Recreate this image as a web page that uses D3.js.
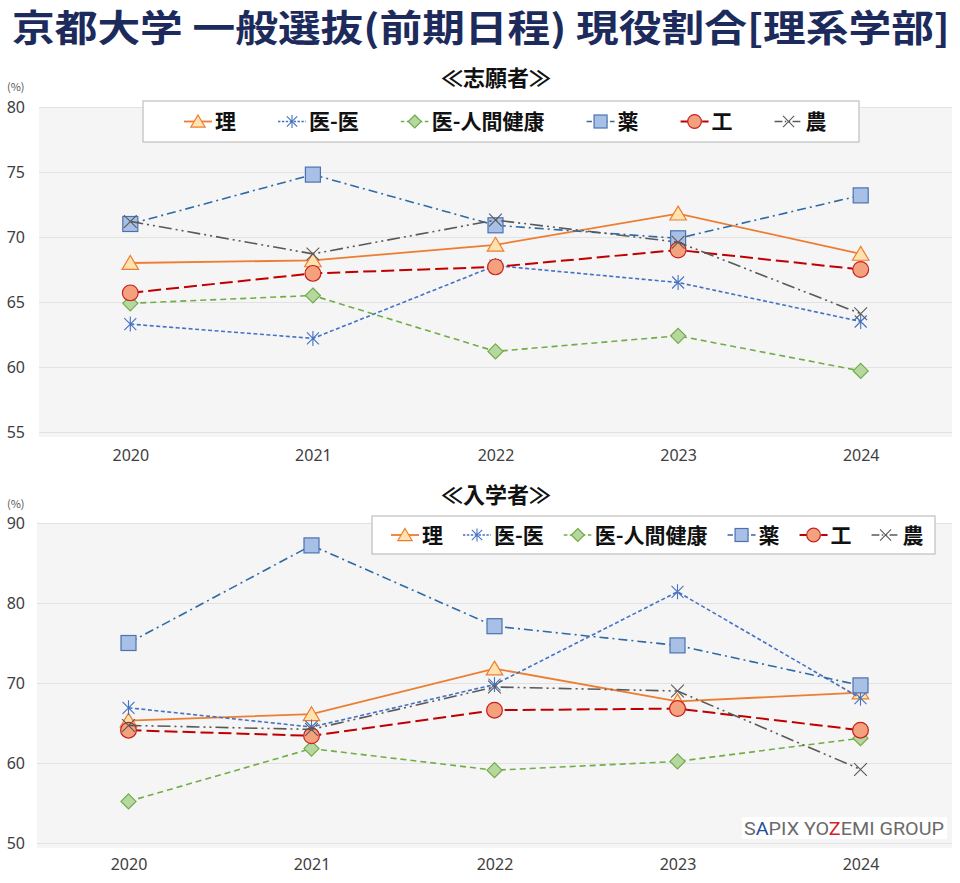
<!DOCTYPE html>
<html><head><meta charset="utf-8">
<script src="https://cdn.jsdelivr.net/npm/d3@7"></script>
<style>
html,body{margin:0;padding:0;background:#fff;}
svg{display:block;}
</style></head>
<body>
<script>
// ---- data ----
const years = ["2020","2021","2022","2023","2024"];
const seriesNames = ["理","医-医","医-人間健康","薬","工","農"];
// 志願者 (applicants) share of current students, %
const appRi    = [68.0, 68.2, 69.4, 71.8, 68.7];
const appIgaku = [63.3, 62.2, 67.8, 66.5, 63.5];
const appHoken = [64.9, 65.5, 61.2, 62.4, 59.7];
const appYaku  = [71.0, 74.8, 70.9, 69.9, 73.2];
const appKou   = [65.7, 67.2, 67.7, 69.0, 67.5];
const appNou   = [71.2, 68.7, 71.3, 69.6, 64.1];
// 入学者 (enrollees)
const entRi    = [65.3, 66.1, 71.8, 67.7, 68.8];
const entIgaku = [66.9, 64.5, 69.8, 81.4, 68.1];
const entHoken = [55.2, 61.8, 59.1, 60.2, 63.1];
const entYaku  = [75.0, 87.2, 77.1, 74.7, 69.7];
const entKou   = [64.1, 63.4, 66.6, 66.8, 64.1];
const entNou   = [64.7, 64.2, 69.5, 69.0, 59.2];
const appTicks = [55, 60, 65, 70, 75, 80];
const entTicks = [50, 60, 70, 80, 90];

// ---- styles ----
const styles = {
  "理":        {stroke:"#ED7D31", width:1.8, dash:null,              marker:"triangle", fill:"#FFE3AE", mstroke:"#ED7D31"},
  "医-医":      {stroke:"#4472C4", width:1.6, dash:"4,2.5",           marker:"star",     fill:"none",    mstroke:"#4472C4"},
  "医-人間健康": {stroke:"#70AD47", width:1.6, dash:"6,4",             marker:"diamond",  fill:"#B7D7A0", mstroke:"#70AD47"},
  "薬":        {stroke:"#2E6AA6", width:1.6, dash:"9,4,2,4",         marker:"square",   fill:"#A8C0E6", mstroke:"#4A72B0"},
  "工":        {stroke:"#C00000", width:2.0, dash:"13,5",            marker:"circle",   fill:"#F4A27E", mstroke:"#C62020"},
  "農":        {stroke:"#595959", width:1.6, dash:"13,4,2,4,2,4",    marker:"x",        fill:"none",    mstroke:"#595959"}
};

const W = 960, H = 883;
const svg = d3.select("body").append("svg").attr("width", W).attr("height", H);
const JP = "'Noto Sans CJK JP','Noto Sans',sans-serif";

// title
svg.append("text").attr("x", 12).attr("y", 42)
  .attr("textLength", 938).attr("lengthAdjust", "spacingAndGlyphs")
  .style("font-family", JP).style("font-weight", 700).style("font-size", "37px")
  .attr("fill", "#1C2B5C")
  .text("京都大学 一般選抜(前期日程) 現役割合[理系学部]");

function drawMarker(g, type, s, st) {
  const h = s / 2;
  if (type === "triangle") {
    g.append("path").attr("d", `M0,${-h} L${h*1.1},${h*0.85} L${-h*1.1},${h*0.85} Z`)
      .attr("fill", st.fill).attr("stroke", st.mstroke).attr("stroke-width", 1.2);
  } else if (type === "square") {
    g.append("rect").attr("x", -h).attr("y", -h).attr("width", s).attr("height", s)
      .attr("fill", st.fill).attr("stroke", st.mstroke).attr("stroke-width", 1.2);
  } else if (type === "circle") {
    g.append("circle").attr("r", h*1.05).attr("fill", st.fill).attr("stroke", st.mstroke).attr("stroke-width", 1.2);
  } else if (type === "diamond") {
    g.append("path").attr("d", `M0,${-h} L${h},0 L0,${h} L${-h},0 Z`)
      .attr("fill", st.fill).attr("stroke", st.mstroke).attr("stroke-width", 1.2);
  } else if (type === "star") {
    const d = h*0.8;
    g.append("path").attr("d", `M0,${-h} L0,${h} M${-d},${-d} L${d},${d} M${-d},${d} L${d},${-d}`)
      .attr("stroke", st.mstroke).attr("stroke-width", 1.1).attr("fill", "none");
  } else if (type === "x") {
    const d = h*0.85;
    g.append("path").attr("d", `M${-d},${-d} L${d},${d} M${-d},${d} L${d},${-d}`)
      .attr("stroke", st.mstroke).attr("stroke-width", 1.1).attr("fill", "none");
  }
}

function chart(cfg) {
  const x = d3.scalePoint().domain(years).range([cfg.left, cfg.right]).padding(0.5);
  const y = d3.scaleLinear().domain([cfg.ticks[0], cfg.ticks[cfg.ticks.length-1]]).range([cfg.bottom, cfg.top]);
  const g = svg.append("g");

  // subtitle
  g.append("text").attr("x", 496).attr("y", cfg.subY).attr("text-anchor", "middle")
    .style("font-family", JP).style("font-weight", 700).style("font-size", "22px").attr("fill", "#111")
    .text(cfg.subtitle);
  g.append("text").attr("x", 7).attr("y", cfg.pctY)
    .style("font-family", JP).style("font-size", "11px").attr("fill", "#555").text("(%)");

  // plot background
  g.append("rect").attr("x", cfg.left).attr("y", cfg.top).attr("width", cfg.right - cfg.left)
    .attr("height", cfg.bottom - cfg.top + 5).attr("fill", "#F5F5F5");

  // gridlines
  const grid = g.append("g").attr("transform", `translate(${cfg.left},0)`)
    .call(d3.axisLeft(y).tickValues(cfg.ticks).tickSize(-(cfg.right - cfg.left)).tickFormat(""));
  grid.select(".domain").remove();
  grid.selectAll("line").attr("stroke", "#E2E2E2").attr("stroke-width", 1.2);

  // y labels
  const ya = g.append("g").attr("transform", `translate(25,0)`)
    .call(d3.axisLeft(y).tickValues(cfg.ticks).tickSize(0).tickPadding(0));
  ya.select(".domain").remove();
  ya.selectAll("text").style("font-family", "'Noto Sans',sans-serif").style("font-size", "16px").attr("fill", "#404040");

  // x labels
  const xa = g.append("g").attr("transform", `translate(0,${cfg.xLabY})`)
    .call(d3.axisBottom(x).tickSize(0).tickPadding(0));
  xa.select(".domain").remove();
  xa.selectAll("text").style("font-family", "'Noto Sans',sans-serif").style("font-size", "16px").attr("fill", "#404040");

  // lines
  const line = d3.line().x((d, i) => x(years[i])).y(d => y(d));
  seriesNames.forEach((name, k) => {
    const st = styles[name];
    const vals = cfg.data[k];
    g.append("path").datum(vals).attr("d", line).attr("fill", "none")
      .attr("stroke", st.stroke).attr("stroke-width", st.width)
      .attr("stroke-dasharray", st.dash);
    vals.forEach((v, i) => {
      const mg = g.append("g").attr("transform", `translate(${x(years[i])},${y(v)})`);
      drawMarker(mg, st.marker, 15, st);
    });
  });

  // legend
  const lg = g.append("g");
  lg.append("rect").attr("x", cfg.legBox[0]).attr("y", cfg.legBox[1])
    .attr("width", cfg.legBox[2] - cfg.legBox[0]).attr("height", cfg.legBox[3] - cfg.legBox[1])
    .attr("fill", "#fff").attr("stroke", "#BFBFBF").attr("stroke-width", 1.2);
  const cy = (cfg.legBox[1] + cfg.legBox[3]) / 2;
  let cx = cfg.legStart;
  seriesNames.forEach(name => {
    const st = styles[name];
    const it = lg.append("g");
    it.append("line").attr("x1", cx).attr("x2", cx + 28).attr("y1", cy).attr("y2", cy)
      .attr("stroke", st.stroke).attr("stroke-width", st.width).attr("stroke-dasharray", st.dash ? st.dash.split(",").map(v => Math.max(1.5, v * 0.6)).join(",") : null);
    const mg = it.append("g").attr("transform", `translate(${cx + 14},${cy})`);
    drawMarker(mg, st.marker, 13, st);
    const t = it.append("text").attr("x", cx + 31).attr("y", cy + 7.5)
      .style("font-family", JP).style("font-weight", 700).style("font-size", "21px").attr("fill", "#111")
      .text(name);
    cx += 31 + t.node().getComputedTextLength() + cfg.legGap;
  });
}

chart({subtitle:"≪志願者≫", subY:86, pctY:91, left:39, right:952, top:107, bottom:432, xLabY:450,
  ticks: appTicks, data:[appRi, appIgaku, appHoken, appYaku, appKou, appNou],
  legBox:[143, 101, 859, 142], legStart:184, legGap:42});

chart({subtitle:"≪入学者≫", subY:503, pctY:508, left:37, right:952, top:523, bottom:843, xLabY:859,
  ticks: entTicks, data:[entRi, entIgaku, entHoken, entYaku, entKou, entNou],
  legBox:[372, 516, 935, 554], legStart:391, legGap:20});

// logo
const logo = svg.append("g");
logo.append("rect").attr("x", 742).attr("y", 817).attr("width", 205).attr("height", 22).attr("fill", "#fff");
const lt = logo.append("text").attr("x", 744).attr("y", 835).attr("textLength", 200).attr("lengthAdjust", "spacingAndGlyphs")
  .style("font-family", "Roboto,'DejaVu Sans',sans-serif").style("font-size", "18px").attr("fill", "#6b6b6b");
lt.append("tspan").text("S");
lt.append("tspan").attr("fill", "#1F4E9C").text("A");
lt.append("tspan").text("PIX YO");
lt.append("tspan").attr("fill", "#D61F26").text("Z");
lt.append("tspan").text("EMI GROUP");
</script>
</body></html>
